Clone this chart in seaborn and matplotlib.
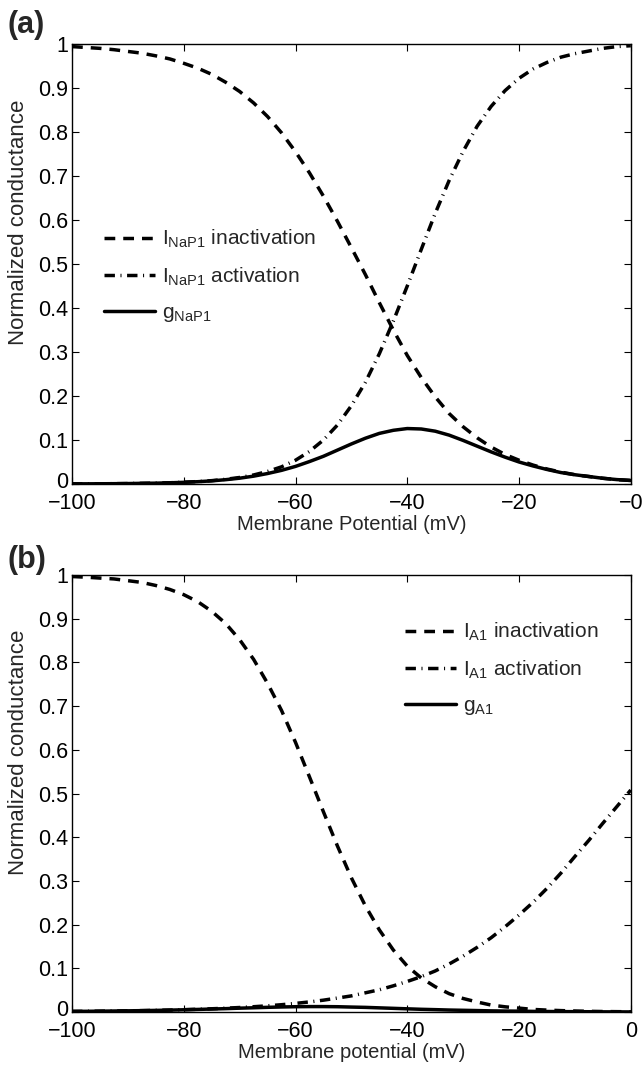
import numpy as np
import pandas as pd
import matplotlib
matplotlib.use("Agg")
import matplotlib.pyplot as plt
import matplotlib.transforms as mtransforms
import seaborn as sns

# membrane potential grid (mV)
v = [-100, -97.5, -95, -92.5, -90, -87.5, -85, -82.5, -80, -77.5,
     -75, -72.5, -70, -67.5, -65, -62.5, -60, -57.5, -55, -52.5,
     -50, -47.5, -45, -42.5, -40, -37.5, -35, -32.5, -30, -27.5,
     -25, -22.5, -20, -17.5, -15, -12.5, -10, -7.5, -5, -2.5, 0]

# panel (a): I_NaP1
nap_inact = [0.994, 0.992, 0.990, 0.987, 0.983, 0.979, 0.973, 0.966, 0.956, 0.945,
             0.931, 0.913, 0.892, 0.866, 0.835, 0.798, 0.755, 0.707, 0.654, 0.597,
             0.537, 0.476, 0.412, 0.350, 0.292, 0.242, 0.198, 0.160, 0.130, 0.105,
             0.084, 0.067, 0.054, 0.043, 0.034, 0.027, 0.021, 0.017, 0.013, 0.010, 0.008]
nap_act = [0.0003, 0.0004, 0.0005, 0.0007, 0.001, 0.0015, 0.002, 0.0028, 0.004, 0.0055,
           0.0076, 0.0107, 0.0148, 0.0205, 0.0285, 0.039, 0.054, 0.074, 0.100, 0.134,
           0.178, 0.231, 0.296, 0.370, 0.450, 0.533, 0.615, 0.690, 0.756, 0.813,
           0.858, 0.894, 0.922, 0.943, 0.958, 0.970, 0.978, 0.984, 0.990, 0.994, 0.996]
nap_g = [0.0003, 0.0004, 0.0005, 0.0007, 0.001, 0.0015, 0.0019, 0.0027, 0.0038, 0.0052,
         0.0071, 0.0098, 0.0132, 0.0178, 0.0238, 0.031, 0.040, 0.051, 0.063, 0.077,
         0.091, 0.104, 0.115, 0.122, 0.126, 0.125, 0.120, 0.111, 0.099, 0.086,
         0.073, 0.061, 0.050, 0.041, 0.033, 0.026, 0.021, 0.017, 0.013, 0.010, 0.008]

# panel (b): I_A1
a_inact = [0.9965, 0.995, 0.993, 0.991, 0.987, 0.983, 0.976, 0.967, 0.955, 0.939,
           0.917, 0.889, 0.852, 0.807, 0.752, 0.690, 0.617, 0.538, 0.458, 0.380,
           0.307, 0.243, 0.188, 0.142, 0.105, 0.078, 0.058, 0.042, 0.031, 0.023,
           0.016, 0.012, 0.009, 0.006, 0.0045, 0.0033, 0.0024, 0.0017, 0.0012, 0.0009, 0.0006]
a_act = [0.0015, 0.0017, 0.002, 0.0024, 0.0028, 0.0033, 0.0039, 0.0046, 0.0054, 0.0064,
         0.0075, 0.0088, 0.0104, 0.0122, 0.0143, 0.0168, 0.0198, 0.0232, 0.0272, 0.032,
         0.037, 0.044, 0.051, 0.060, 0.070, 0.081, 0.094, 0.110, 0.128, 0.148,
         0.170, 0.195, 0.222, 0.251, 0.283, 0.318, 0.356, 0.393, 0.432, 0.470, 0.508]
a_g = [0.0015, 0.0017, 0.002, 0.0024, 0.0028, 0.0032, 0.0038, 0.0044, 0.0052, 0.006,
       0.0069, 0.0078, 0.0089, 0.0098, 0.0108, 0.0116, 0.0122, 0.0125, 0.0125, 0.0122,
       0.0114, 0.0107, 0.0096, 0.0085, 0.0074, 0.0063, 0.0055, 0.0046, 0.004, 0.0034,
       0.0027, 0.0023, 0.002, 0.0015, 0.0013, 0.001, 0.0009, 0.0007, 0.0005, 0.0004, 0.0003]

x_ticks = [-100, -80, -60, -40, -20, 0]
x_labels_a = ["\u2212100", "\u221280", "\u221260", "\u221240", "\u221220", "\u22120"]
x_labels_b = ["\u2212100", "\u221280", "\u221260", "\u221240", "\u221220", "0"]
y_ticks = [0, 0.1, 0.2, 0.3, 0.4, 0.5, 0.6, 0.7, 0.8, 0.9, 1]
y_labels = ["0", "0.1", "0.2", "0.3", "0.4", "0.5", "0.6", "0.7", "0.8", "0.9", "1"]

sns.set_style("ticks")
plt.rcParams['font.family'] = ['Liberation Sans', 'DejaVu Sans']
plt.rcParams['mathtext.fontset'] = 'custom'
plt.rcParams['mathtext.rm'] = 'Liberation Sans'
plt.rcParams['axes.unicode_minus'] = True

dash = (0, (3.1, 2.3))
dashdot = (0, (3.0, 1.6, 0.3, 1.6))
lw = 2.5

fig = plt.figure(figsize=(6.43, 10.67), dpi=100)
ax1 = fig.add_axes([0.112, 0.5464, 0.869, 0.4124])
ax2 = fig.add_axes([0.112, 0.0515, 0.869, 0.4096])

df_a = pd.DataFrame({'v': v, 'inact': nap_inact, 'act': nap_act, 'g': nap_g})
df_b = pd.DataFrame({'v': v, 'inact': a_inact, 'act': a_act, 'g': a_g})

panels = [
    (ax1, df_a, 'NaP1', 'Membrane Potential (mV)', x_labels_a, (0.058, 0.582)),
    (ax2, df_b, 'A1', 'Membrane potential (mV)', x_labels_b, (0.596, 0.895)),
]

# small upward nudge for the "0" y tick label so it clears the x tick labels
nudge = mtransforms.ScaledTranslation(0, 3 / 72, fig.dpi_scale_trans)

for ax, df, sub, xlab, xlabels, anchor in panels:
    sns.lineplot(data=df, x='v', y='inact', ax=ax, color='k', lw=lw, linestyle=dash,
                 label=r'$\mathregular{I_{%s}}$ inactivation' % sub)
    sns.lineplot(data=df, x='v', y='act', ax=ax, color='k', lw=lw, linestyle=dashdot,
                 label=r'$\mathregular{I_{%s}}$ activation' % sub)
    sns.lineplot(data=df, x='v', y='g', ax=ax, color='k', lw=lw, linestyle='-',
                 label=r'$\mathregular{g_{%s}}$' % sub)
    ax.set_xlim(-100, 0)
    ax.set_ylim(0, 1)
    ax.set_xticks(x_ticks)
    ax.set_xticklabels(xlabels)
    ax.set_yticks(y_ticks)
    ax.set_yticklabels(y_labels)
    ax.tick_params(direction='in', top=True, right=True, length=5, width=0.8,
                   labelsize=15.5, colors='k')
    ax.tick_params(axis='x', pad=6.5)
    ax.tick_params(axis='y', pad=3)
    zero_lab = ax.get_yticklabels()[0]
    zero_lab.set_transform(zero_lab.get_transform() + nudge)
    for s in ax.spines.values():
        s.set_linewidth(1.0)
        s.set_color('k')
    ax.set_xlabel(xlab, fontsize=14.5, labelpad=1)
    ax.set_ylabel('Normalized conductance', fontsize=16)
    ax.yaxis.set_label_coords(-0.077, 0.595)
    ax.legend(loc='upper left', bbox_to_anchor=anchor, frameon=False, fontsize=15,
              handlelength=2.45, handletextpad=0.33, labelspacing=0.74,
              borderpad=0, borderaxespad=0)

fig.text(0.012, 0.9766, '(a)', fontsize=22, fontweight='bold', va='center', ha='left')
fig.text(0.012, 0.4755, '(b)', fontsize=22, fontweight='bold', va='center', ha='left')

fig.savefig('out.png', dpi=100)
